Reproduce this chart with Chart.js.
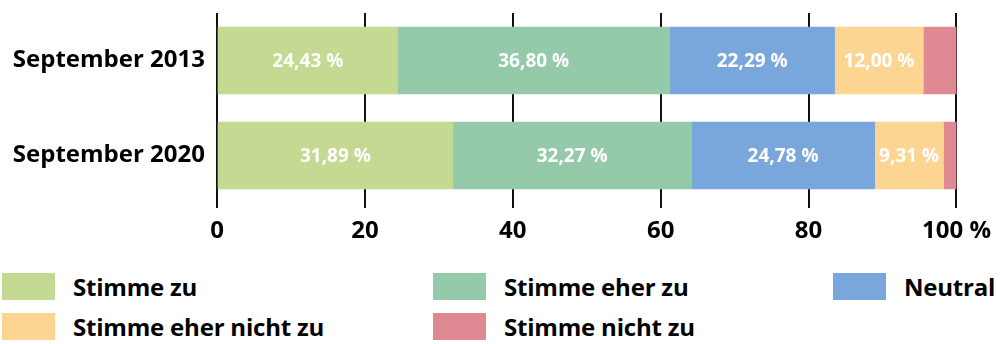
<!DOCTYPE html>
<html>
<head>
<meta charset="utf-8">
<script src="https://cdn.jsdelivr.net/npm/chart.js@4/dist/chart.umd.min.js"></script>
<style>
    body { margin: 0; background: #fff; font-family: "Open Sans", sans-serif; }
    #wrap { position: relative; width: 1000px; height: 250px; }
    #legend {
        display: grid;
        grid-template-columns: 431px 400px auto;
        row-gap: 13px;
        padding-left: 2px;
        margin-top: 23px;
    }
    .item { display: flex; align-items: center; height: 27px; }
    .box { width: 53px; height: 27px; margin-right: 18px; }
    .lbl { font-weight: 700; font-size: 24px; color: #000; letter-spacing: -0.2px; }
</style>
</head>
<body>
<div id="wrap"><canvas id="chart"></canvas></div>
<div id="legend"></div>
<script>
const categories = ["September 2013", "September 2020"];
const seriesNames = ["Stimme zu", "Stimme eher zu", "Neutral", "Stimme eher nicht zu", "Stimme nicht zu"];
const seriesColors = ["#c4d992", "#94caa9", "#7aa7db", "#fdd592", "#df8a93"];
const stimmeZu = [24.43, 31.89];
const stimmeEherZu = [36.80, 32.27];
const neutral = [22.29, 24.78];
const stimmeEherNichtZu = [12.00, 9.31];
const stimmeNichtZu = [4.48, 1.75];
const xTicks = [0, 20, 40, 60, 80, 100];

const seriesValues = [stimmeZu, stimmeEherZu, neutral, stimmeEherNichtZu, stimmeNichtZu];

// Werte in die Balken schreiben (nicht beim letzten, schmalen Segment)
const barLabels = {
    id: "barLabels",
    afterDatasetsDraw(chart) {
        const ctx = chart.ctx;
        ctx.save();
        ctx.fillStyle = "#fff";
        ctx.font = "700 19px 'Open Sans'";
        ctx.textAlign = "center";
        ctx.textBaseline = "middle";
        chart.data.datasets.forEach((ds, i) => {
            if (i === chart.data.datasets.length - 1) return;
            const meta = chart.getDatasetMeta(i);
            meta.data.forEach((bar, j) => {
                const txt = ds.data[j].toFixed(2).replace(".", ",") + " %";
                const cx = (bar.x + bar.base) / 2;
                ctx.fillText(txt, cx, bar.y + 1);
            });
        });
        ctx.restore();
    }
};

function buildChart() {
    const datasets = seriesNames.map((name, i) => ({
        label: name,
        data: seriesValues[i],
        backgroundColor: seriesColors[i],
        borderWidth: 0,
        barThickness: 67
    }));

    new Chart(document.getElementById("chart"), {
        type: "bar",
        data: { labels: categories, datasets: datasets },
        options: {
            indexAxis: "y",
            responsive: true,
            maintainAspectRatio: false,
            animation: false,
            layout: { padding: { top: 13, right: 43, bottom: 0, left: 0 } },
            plugins: { legend: { display: false }, tooltip: { enabled: false } },
            scales: {
                x: {
                    stacked: true,
                    min: 0,
                    max: 100,
                    afterBuildTicks: axis => { axis.ticks = xTicks.map(v => ({ value: v })); },
                    afterFit: axis => { axis.height = 47; },
                    grid: { color: "#111", lineWidth: 2, tickLength: 5, drawTicks: true },
                    border: { display: false },
                    ticks: {
                        color: "#000",
                        padding: 9,
                        maxRotation: 0,
                        font: { family: "Open Sans", weight: "700", size: 24 },
                        callback: v => v === 100 ? "100 %" : String(v)
                    }
                },
                y: {
                    stacked: true,
                    grid: { display: false, drawTicks: false },
                    border: { display: false },
                    afterFit: axis => {
                        axis.width = 217;
                        axis.paddingTop = 0;
                        axis.paddingBottom = 0;
                    },
                    ticks: {
                        color: "#000",
                        padding: 12,
                        font: { family: "Open Sans", weight: "700", size: 24 }
                    }
                }
            }
        },
        plugins: [barLabels]
    });
}

function buildLegend() {
    const legend = document.getElementById("legend");
    let html = "";
    seriesNames.forEach((name, i) => {
        html += `<div class="item"><div class="box" style="background:${seriesColors[i]}"></div><span class="lbl">${name}</span></div>`;
    });
    legend.innerHTML = html;
}

document.addEventListener("DOMContentLoaded", () => {
    buildChart();
    buildLegend();
});
</script>
</body>
</html>
